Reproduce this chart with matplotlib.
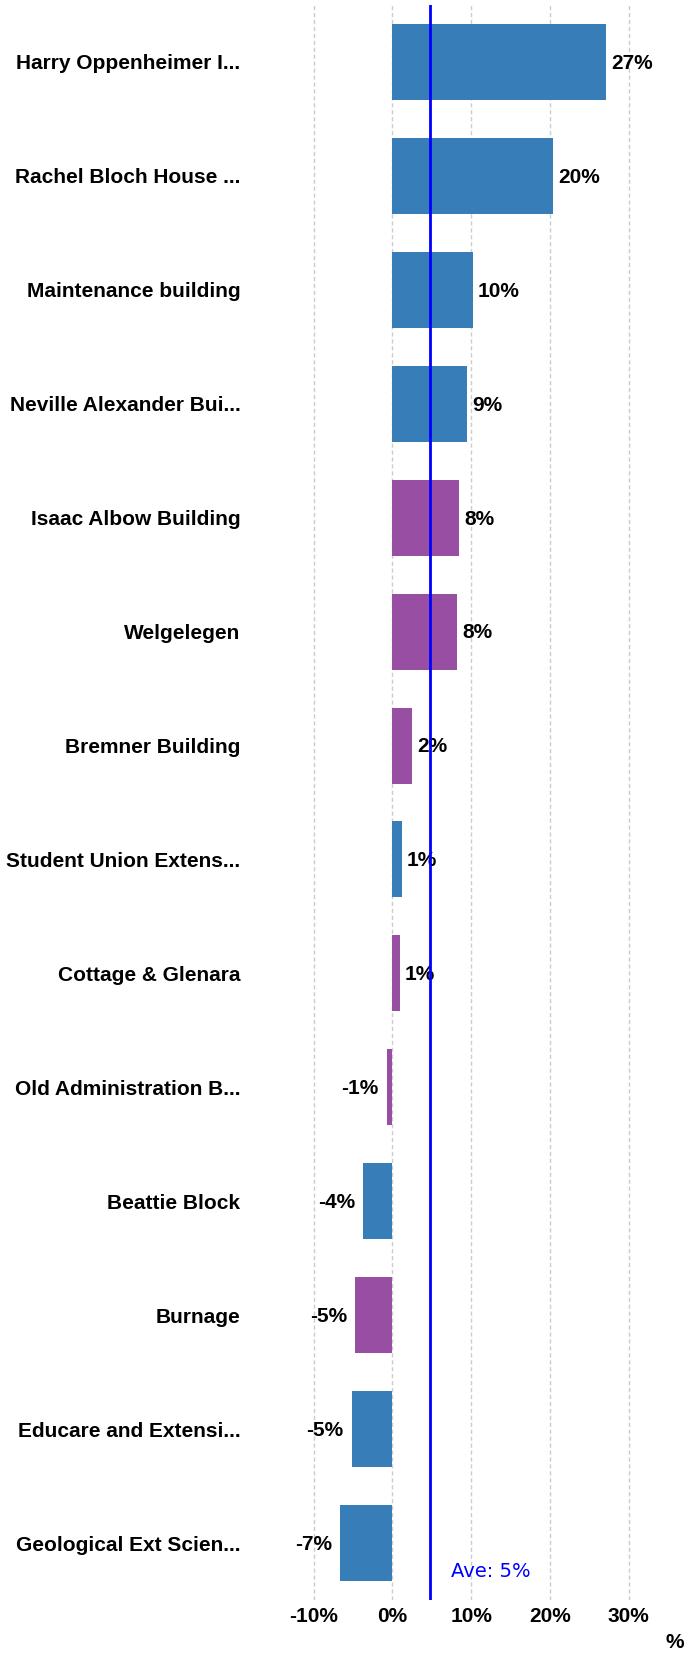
import matplotlib
matplotlib.use("Agg")
import matplotlib.pyplot as plt

# data
buildings = [
    "Harry Oppenheimer I...", "Rachel Bloch House ...", "Maintenance building",
    "Neville Alexander Bui...", "Isaac Albow Building", "Welgelegen",
    "Bremner Building", "Student Union Extens...", "Cottage & Glenara",
    "Old Administration B...", "Beattie Block", "Burnage",
    "Educare and Extensi...", "Geological Ext Scien...",
]
change_pct = [27.2, 20.4, 10.2, 9.48, 8.48, 8.25, 2.48, 1.2, 0.9,
              -0.7, -3.7, -4.7, -5.2, -6.6]
group = ["a", "a", "a", "a", "b", "b", "b", "a", "b", "b", "a", "b", "a", "a"]
average = 4.8
x_ticks = [-10, 0, 10, 20, 30]

colours = {"a": "#377eb8", "b": "#984ea3"}

plt.rcParams['font.family'] = ['Liberation Sans', 'DejaVu Sans']

fig = plt.figure(figsize=(6.87, 16.54), dpi=100)
ax = fig.add_axes([250 / 687, 54 / 1654, 410 / 687, 1595 / 1654])

ypos = list(range(len(buildings)))
ax.barh(ypos, change_pct, height=0.667, color=[colours[g] for g in group], zorder=2)

# value labels beside the bars
for y, v in zip(ypos, change_pct):
    if v >= 0:
        ax.annotate(f"{v:.0f}%", (v, y), xytext=(3.5, -1), textcoords="offset points",
                    ha="left", va="center", fontsize=15, fontweight="bold", zorder=3)
    else:
        ax.annotate(f"{v:.0f}%", (v, y), xytext=(-6, -1), textcoords="offset points",
                    ha="right", va="center", fontsize=15, fontweight="bold", zorder=3)

# average line
ax.axvline(average, color="#0000ff", lw=2, zorder=4)
ax.annotate(f"Ave: {average:.0f}%", (average, 13.3), xytext=(15, 0),
            textcoords="offset points", ha="left", va="baseline",
            fontsize=14, color="#0000ff", family="DejaVu Sans")

ax.set_xlim(-18.1, 34.0)
ax.set_ylim(13.5, -0.5)
ax.set_xticks(x_ticks)
ax.set_xticklabels([f"{t}%" for t in x_ticks], fontsize=15, fontweight="bold")
ax.set_yticks(ypos)
ax.set_yticklabels(buildings, fontsize=15, fontweight="bold")
ax.tick_params(axis="y", length=0, pad=7)
ax.tick_params(axis="x", length=0, pad=5)
ax.grid(axis="x", color="#cccccc", lw=1, linestyle=(0, (3, 2)), zorder=0)
ax.set_axisbelow(True)
for s in ax.spines.values():
    s.set_visible(False)

fig.text(675 / 687, 1 - 1643 / 1654, "%", ha="center", va="center",
         fontsize=15, fontweight="bold")

fig.savefig("out.png", dpi=100)
